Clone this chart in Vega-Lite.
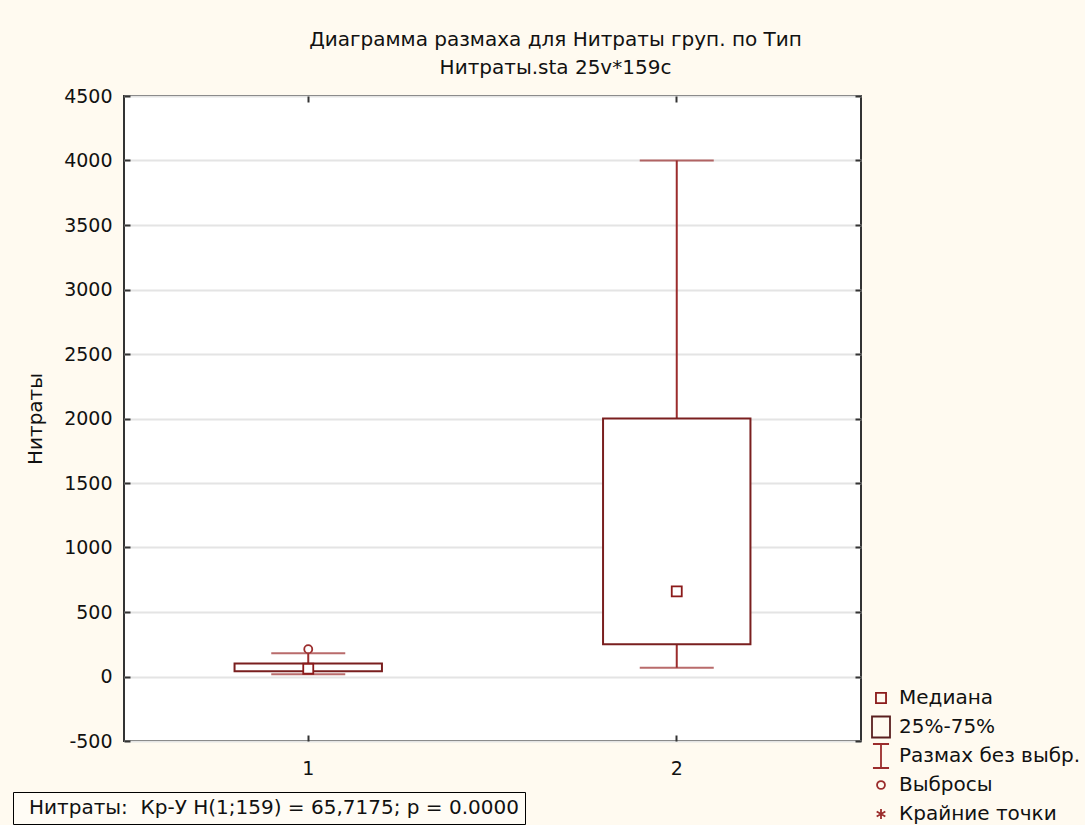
{
  "$schema": "https://vega.github.io/schema/vega-lite/v6.json",
  "autosize": "none",
  "width": 737,
  "height": 645,
  "padding": {"left": 124, "top": 96, "right": 224, "bottom": 84},
  "background": "#FFFAF0",
  "title": {
    "text": ["Диаграмма размаха для Нитраты груп. по Тип", "Нитраты.sta 25v*159c"],
    "font": "DejaVu Sans",
    "fontSize": 20,
    "fontWeight": "normal",
    "color": "#111111",
    "lineHeight": 28,
    "anchor": "middle",
    "dx": 63,
    "offset": 9
  },
  "data": {
    "values": [
      {"Type": "1", "min": 18, "q1": 40, "median": 60, "q3": 100, "max": 181},
      {"Type": "2", "min": 67, "q1": 250, "median": 660, "q3": 2000, "max": 4000}
    ]
  },
  "resolve": {"axis": {"x": "independent", "y": "independent"}},
  "layer": [
    {
      "mark": {"type": "rule", "color": "#9B2C2C", "strokeWidth": 2},
      "encoding": {
        "x": {"field": "Type", "type": "nominal", "sort": ["1", "2"],
          "scale": {"paddingInner": 0, "paddingOuter": 0},
          "axis": {"orient": "bottom", "title": null, "labelAngle": 0, "labelPadding": 24, "grid": false}},
        "y": {"field": "min", "type": "quantitative",
          "scale": {"domain": [-500, 4500], "nice": false, "zero": false},
          "axis": {"orient": "left", "title": "Нитраты", "values": [-500, 0, 500, 1000, 1500, 2000, 2500, 3000, 3500, 4000, 4500],
            "labelExpr": "'' + datum.value", "labelPadding": 18, "titlePadding": 18, "titleFontSize": 20, "grid": true}},
        "y2": {"field": "max"}
      }
    },
    {
      "mark": {"type": "bar", "fill": "white", "stroke": "#7A1F1F", "strokeWidth": 2, "width": {"band": 0.4}},
      "encoding": {
        "x": {"field": "Type", "type": "nominal", "sort": ["1", "2"],
          "axis": {"orient": "top", "title": null, "labels": false, "grid": false}},
        "y": {"field": "q1", "type": "quantitative",
          "axis": {"orient": "right", "title": null, "labels": false, "grid": false, "values": [-500, 0, 500, 1000, 1500, 2000, 2500, 3000, 3500, 4000, 4500]}},
        "y2": {"field": "q3"}
      }
    },
    {
      "mark": {"type": "tick", "color": "#9B2C2C", "thickness": 2, "size": 74},
      "encoding": {
        "x": {"field": "Type", "type": "nominal", "sort": ["1", "2"], "axis": null},
        "y": {"field": "min", "type": "quantitative", "axis": null}
      }
    },
    {
      "mark": {"type": "tick", "color": "#9B2C2C", "thickness": 2, "size": 74},
      "encoding": {
        "x": {"field": "Type", "type": "nominal", "sort": ["1", "2"], "axis": null},
        "y": {"field": "max", "type": "quantitative", "axis": null}
      }
    },
    {
      "mark": {"type": "point", "shape": "square", "size": 100, "filled": true, "fill": "white", "stroke": "#8B1A1A", "strokeWidth": 1.8, "opacity": 1},
      "encoding": {
        "x": {"field": "Type", "type": "nominal", "sort": ["1", "2"], "axis": null},
        "y": {"field": "median", "type": "quantitative", "axis": null}
      }
    },
    {
      "data": {"values": [{"Type": "1", "outlier": 212}]},
      "mark": {"type": "point", "shape": "circle", "size": 64, "filled": true, "fill": "white", "stroke": "#9B2C2C", "strokeWidth": 1.8, "opacity": 1},
      "encoding": {
        "x": {"field": "Type", "type": "nominal", "sort": ["1", "2"], "axis": null},
        "y": {"field": "outlier", "type": "quantitative", "axis": null}
      }
    },
    {
      "data": {"values": [
        {"item": "Медиана"},
        {"item": "25%-75%"},
        {"item": "Размах без выбр."},
        {"item": "Выбросы"},
        {"item": "Крайние точки"}
      ]},
      "mark": {"type": "point", "filled": false, "clip": true, "strokeWidth": 1.8, "opacity": 1, "size": 576},
      "encoding": {
        "x": {"datum": "1", "type": "nominal", "axis": null},
        "y": {"datum": -3000, "type": "quantitative", "axis": null},
        "shape": {"field": "item", "type": "nominal",
          "scale": {"domain": ["Медиана", "25%-75%", "Размах без выбр.", "Выбросы", "Крайние точки"],
            "range": [
              "M-0.42,-0.42H0.42V0.42H-0.42Z",
              "M-0.75,-0.875H0.75V0.875H-0.75Z",
              "M-0.67,-1H0.67M0,-1V1M-0.67,1H0.67",
              "M0.33,0A0.33,0.33 0 1,1 -0.33,0A0.33,0.33 0 1,1 0.33,0Z",
              "M0,-0.42V0.42M-0.36,-0.21L0.36,0.21M-0.36,0.21L0.36,-0.21"
            ]},
          "legend": {"orient": "none", "legendX": 744, "legendY": 589, "title": null, "padding": 0,
            "labelFont": "DejaVu Sans", "labelFontSize": 20, "labelColor": "#111111", "labelOffset": 5,
            "gridAlign": "all", "rowPadding": -5, "symbolSize": 576, "symbolStrokeWidth": 1.8, "labelLimit": 0}},
        "stroke": {"field": "item", "type": "nominal",
          "scale": {"domain": ["Медиана", "25%-75%", "Размах без выбр.", "Выбросы", "Крайние точки"],
            "range": ["#8B1A1A", "#5A1E1E", "#9B2C2C", "#9B2C2C", "#9B2C2C"]}}
      }
    },
    {
      "data": {"values": [{"note": "Нитраты:\u00a0 Кр-У H(1;159) = 65,7175; p = 0.0000"}]},
      "mark": {"type": "point", "filled": false, "clip": true, "opacity": 1},
      "encoding": {
        "x": {"datum": "1", "type": "nominal", "axis": null},
        "y": {"datum": -3000, "type": "quantitative", "axis": null},
        "color": {"field": "note", "type": "nominal", "scale": {"range": ["#000000"]},
          "legend": {"orient": "none", "legendX": -111, "legendY": 696, "title": null, "padding": 6,
            "strokeColor": "#000000", "fillColor": "#FFFCF5",
            "labelFont": "DejaVu Sans", "labelFontSize": 20, "labelColor": "#111111", "labelOffset": -10,
            "symbolSize": 1, "symbolOpacity": 0, "symbolStrokeWidth": 0, "labelLimit": 0}}
      }
    }
  ],
  "config": {
    "view": {"fill": "white", "stroke": "#333333", "strokeWidth": 2},
    "axis": {
      "labelFont": "DejaVu Sans", "labelFontSize": 19, "labelColor": "#111111",
      "titleFont": "DejaVu Sans", "titleFontSize": 18, "titleFontWeight": "normal", "titleColor": "#111111",
      "gridColor": "#E4E4E4", "gridWidth": 2,
      "domain": false, "tickColor": "#333333", "tickWidth": 2, "tickSize": -6
    }
  }
}
